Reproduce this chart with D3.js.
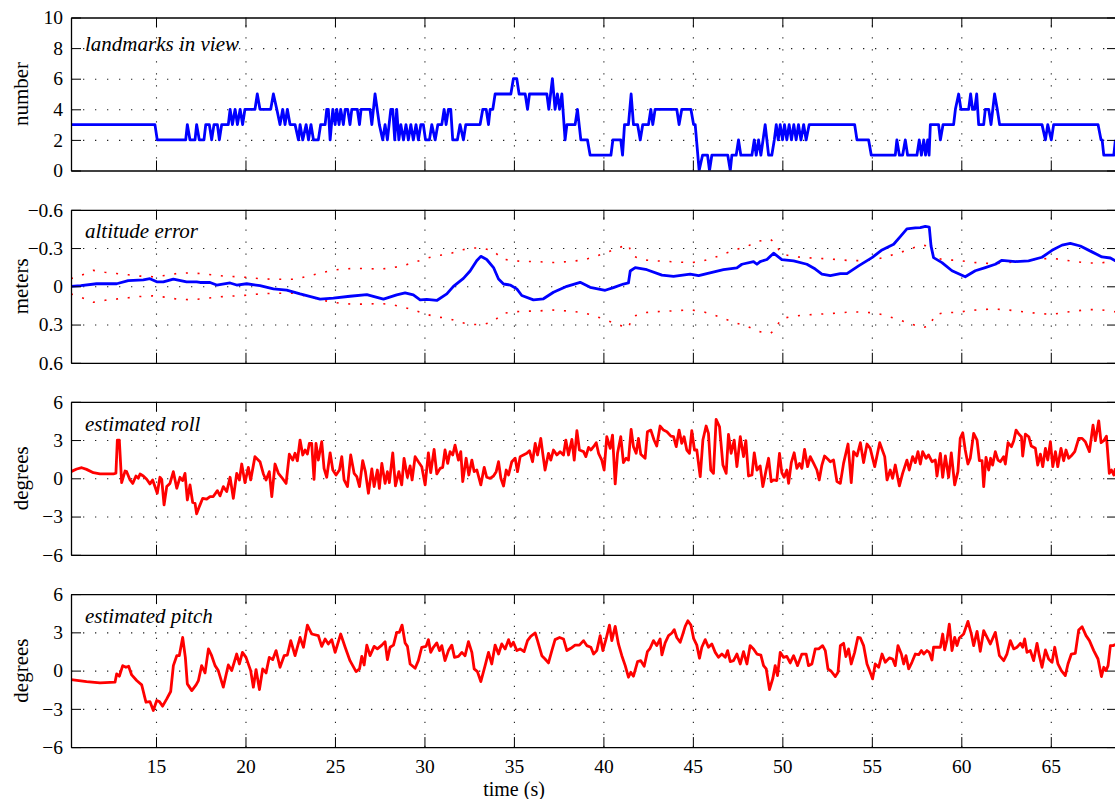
<!DOCTYPE html>
<html>
<head>
<meta charset="utf-8">
<script src="https://cdn.jsdelivr.net/npm/d3@7"></script>
<style>
body { margin: 0; background: #fff; }
svg { display: block; font-family: "Liberation Serif", "DejaVu Serif", serif; }
</style>
</head>
<body>
<div id="chart"></div>
<script>
// ---- data (time in s, value) ----
const timeTicks = [15, 20, 25, 30, 35, 40, 45, 50, 55, 60, 65];
const countTicks = [0, 2, 4, 6, 8, 10];
const altitudeTicks = [-0.6, -0.3, 0, 0.3, 0.6];
const angleTicks = [-6, -3, 0, 3, 6];
const panelTitles = ["landmarks in view", "altitude error", "estimated roll", "estimated pitch"];
const panelUnits = ["number", "meters", "degrees", "degrees"];

const landmarks = [
  [10.25,3],[14.94,3],[15.07,2],[16.66,2],[16.75,3],[16.9,2],[17.18,2],[17.27,3],[17.42,2],[17.68,2],[17.78,3],[17.98,3],[18.11,2],[18.24,3],[18.43,3],[18.54,2],[18.67,3],[19.04,3],[19.14,4],[19.27,3],[19.42,4],[19.55,3],[19.7,4],[19.84,3],[19.97,4],[20.53,4],[20.66,5],[20.81,4],[21.41,4],[21.56,5],[21.75,4],[21.93,3],[22.08,4],[22.21,3],[22.34,4],[22.49,3],[22.77,3],[22.96,2],
  [23.05,3],[23.2,2],[23.39,3],[23.52,2],[23.66,3],[23.8,2],[24.07,2],[24.2,3],[24.45,3],[24.54,4],[24.63,4],[24.73,2],[24.88,4],[25.01,3],[25.1,4],[25.23,3],[25.32,4],[25.47,3],[25.57,4],[25.71,4],[25.84,3],[25.94,4],[26.25,4],[26.37,3],[26.46,4],[26.96,4],[27.06,3],[27.24,5],[27.48,3],[27.67,2],[27.8,3],[27.93,2],[28.12,4],[28.23,4],[28.34,2],[28.45,4],[28.57,2],[28.68,3],[28.83,2],[28.97,3],[29.1,2],[29.24,3],[29.38,2],[29.53,3],[29.66,2],[29.8,3],[29.94,3],[30.06,2],[30.28,2],[30.41,3],[30.6,2],[30.75,3],[30.97,3],[31.1,4],[31.21,3],[31.34,4],[31.47,4],[31.58,2],[31.84,2],[31.99,3],[32.18,2],[32.31,3],[33.11,3],[33.26,4],[33.45,4],[33.58,3],[33.67,4],[33.82,4],[33.95,5],[34.83,5],[34.97,6],[35.16,6],[35.29,5],[35.63,5],[35.76,4],[35.87,5],[36.84,5],[36.95,4],[37.15,6],[37.3,4],[37.43,5],[37.55,4],[37.68,5],[37.86,2],[37.96,3],[38.42,3],[38.55,4],[38.74,2],[39.11,2],[39.26,1],[40.42,1],[40.53,2],[40.97,2],[41.07,1],[41.18,3],[41.4,3],[41.55,5],[41.68,3],[41.91,3],[42.06,2],[42.2,3],[42.52,3],[42.65,4],[42.76,3],[42.89,4],[44.1,4],[44.23,3],[44.38,4],[44.89,4],[45.04,3],[45.13,3],[45.35,0],[45.54,1],[45.82,1],[45.93,0],[46.06,1],[46.95,1],[47.09,0],[47.18,1],[47.42,1],[47.55,2],[47.68,1],[48.3,1],[48.43,2],[48.54,1],[48.67,2],[48.8,1],[49.04,3],[49.23,1],[49.41,1],[49.55,2],[49.66,3],[49.77,2],[49.88,3],[50.01,2],[50.12,3],[50.25,2],[50.38,3],[50.51,2],[50.64,3],[50.77,2],[50.9,3],[51.04,2],[51.19,3],[51.33,2],[51.5,3],
  [54.04,3],[54.17,2],[54.82,2],[54.97,1],[56.31,1],[56.4,2],[56.54,1],[56.72,1],[56.87,2],[57,1],[57.52,1],[57.65,2],[57.77,1],[57.9,2],[58.0,1],[58.12,2],[58.2,1],[58.27,3],[58.73,3],[58.83,2],[58.98,3],[59.57,3],[59.67,4],[59.85,5],[59.98,4],[60.41,4],[60.52,5],[60.63,4],[60.75,4],[60.86,5],[60.97,3],[61.25,3],[61.34,4],[61.53,4],[61.66,3],[61.86,5],[62.01,4],[62.14,3],[64.51,3],[64.7,2],[64.83,3],[65.03,2],[65.16,3],[67.64,3],[67.81,2],[67.87,2],[67.96,1],[68.52,1],[68.61,2]
];

const altitudeError = [
  [10.25,0],[10.8,-0.005],[11.68,-0.02],[12.8,-0.02],[13.45,-0.045],[14.29,-0.05],[14.66,-0.06],[15.04,-0.035],[15.41,-0.035],[15.97,-0.057],[16.71,-0.035],[17.27,-0.035],[17.46,-0.03],[18.02,-0.03],[18.39,-0.01],[19.14,-0.026],[19.51,-0.01],[20.07,-0.02],[20.81,-0.005],[21.56,0.02],[22.3,0.03],[23.05,0.06],[24.17,0.1],[24.91,0.093],[25.84,0.078],[26.78,0.065],[27.71,0.1],[28.45,0.067],[28.92,0.052],[29.38,0.067],[29.76,0.106],[30.13,0.103],[30.69,0.111],[31.25,0.06],[31.62,0],[32.18,-0.062],[32.55,-0.12],[32.92,-0.2],[33.15,-0.235],[33.48,-0.21],[33.86,-0.147],[34.14,-0.057],[34.42,-0.018],[34.79,-0.01],[35.16,0.02],[35.44,0.072],[36.09,0.106],[36.65,0.098],[37.21,0.047],[37.96,0],[38.7,-0.031],[39.26,0.008],[40.1,0.031],[40.56,0.01],[41.12,-0.018],[41.4,-0.026],[41.5,-0.12],[41.78,-0.147],[42.43,-0.13],[43.27,-0.088],[43.92,-0.078],[44.85,-0.096],[45.32,-0.083],[45.78,-0.1],[46.71,-0.13],[47.46,-0.145],[47.74,-0.173],[48.39,-0.194],[48.58,-0.173],[48.76,-0.194],[49.14,-0.21],[49.51,-0.26],[49.97,-0.21],[50.63,-0.2],[51.37,-0.173],[51.84,-0.135],[52.21,-0.096],[52.68,-0.083],[53.24,-0.1],[53.61,-0.1],[54.26,-0.16],[55.01,-0.225],[55.57,-0.285],[56.22,-0.33],[56.59,-0.39],[56.96,-0.45],[57.43,-0.458],[57.71,-0.46],[57.99,-0.47],[58.21,-0.465],[58.31,-0.315],[58.45,-0.225],[58.92,-0.186],[59.48,-0.122],[60.22,-0.075],[60.78,-0.122],[61.34,-0.147],[61.9,-0.173],[62.27,-0.204],[63.02,-0.194],[63.76,-0.2],[64.51,-0.228],[65.07,-0.282],[65.63,-0.323],[66.09,-0.336],[66.65,-0.316],[67.3,-0.27],[67.86,-0.23],[68.33,-0.222],[68.61,-0.2]
];

const altitudeSigma = [
  [10.25,0.06],[10.8,0.085],[11.5,0.125],[12.15,0.11],[12.8,0.1],[13.45,0.09],[14.1,0.08],[14.81,0.075],[15.5,0.085],[16.15,0.1],[16.81,0.105],[17.46,0.1],[18.11,0.09],[18.8,0.08],[19.47,0.075],[20.1,0.07],[20.78,0.06],[21.47,0.055],[22.12,0.055],[22.77,0.055],[23.05,0.065],[23.42,0.078],[24.07,0.1],[24.73,0.122],[25.38,0.135],[26.03,0.14],[26.72,0.14],[27.39,0.135],[28.04,0.14],[28.73,0.16],[29.38,0.185],[30.0,0.215],[30.65,0.24],[31.3,0.25],[31.94,0.28],[32.59,0.3],[33.26,0.3],[33.89,0.275],[34.32,0.215],[34.97,0.2],[35.66,0.195],[36.32,0.195],[36.99,0.185],[37.64,0.19],[38.29,0.197],[38.91,0.207],[39.52,0.233],[40.15,0.264],[40.79,0.3],[41.4,0.327],[41.61,0.24],[42.24,0.207],[42.89,0.2],[43.55,0.195],[44.23,0.19],[44.89,0.185],[45.54,0.198],[46.19,0.225],[46.8,0.257],[47.46,0.29],[48.07,0.316],[48.71,0.355],[49.32,0.37],[49.6,0.34],[49.92,0.255],[50.57,0.235],[51.22,0.225],[51.89,0.22],[52.55,0.215],[53.24,0.208],[53.89,0.2],[54.58,0.203],[55.23,0.21],[55.88,0.235],[56.54,0.263],[57.19,0.295],[57.8,0.325],[58.27,0.31],[58.49,0.225],[59.11,0.205],[59.8,0.205],[60.45,0.19],[61.12,0.183],[61.77,0.178],[62.46,0.183],[63.11,0.194],[63.76,0.205],[64.45,0.215],[65.1,0.22],[65.78,0.205],[66.43,0.193],[67.08,0.183],[67.77,0.183],[68.42,0.196],[68.61,0.2]
];

const roll = [
  [10.25,0.52],[10.57,0.73],[10.85,0.83],[11.12,0.7],[11.5,0.44],[11.87,0.34],[12.62,0.34],[12.76,0.4],[12.84,3],[12.95,3],[13.08,-0.34],[13.27,0.57],[13.36,0.52],[13.55,-0.13],[13.7,-0.4],[13.88,0.18],[14.01,0],[14.11,0.34],[14.29,0.18],[14.48,-0.08],[14.66,-0.44],[14.81,-0.13],[14.94,-0.65],[15.07,-1.17],[15.22,0.08],[15.32,-0.08],[15.45,-2.09],[15.6,-0.65],[15.78,-0.4],[15.97,0.52],[16.16,-0.78],[16.34,0.08],[16.49,-0.18],[16.62,0.39],[16.75,-1.7],[16.9,-0.52],[17.05,-1.9],[17.18,-1.96],[17.27,-2.79],[17.42,-2.22],[17.61,-1.57],[17.83,-1.64],[18.02,-1.43],[18.2,-1.43],[18.43,-0.97],[18.58,-1.38],[18.76,-0.65],[18.95,-1.04],[19.14,0.08],[19.32,-1.57],[19.51,0.39],[19.66,-0.13],[19.79,1.12],[19.97,-0.34],[20.16,0.86],[20.29,-0.13],[20.53,1.7],[20.81,1.3],[21.0,0.34],[21.15,-0.13],[21.33,0.52],[21.47,-1.43],[21.65,1.12],[21.84,0.39],[22.02,0.08],[22.27,-0.4],[22.45,1.9],[22.64,1.43],[22.77,1.96],[22.9,1.38],[23.05,3],
  [23.2,1.83],[23.33,2.22],[23.46,1.9],[23.57,2.74],[23.7,2.74],[23.83,-0.08],[23.94,2.74],[24.07,1.43],[24.26,2.87],[24.39,0.78],[24.54,0.08],[24.73,2.0],[24.88,0.65],[25.06,0.26],[25.25,0.65],[25.38,1.7],[25.51,-0.13],[25.7,-0.65],[25.88,1.83],[26.07,0.39],[26.22,0.13],[26.37,-0.65],[26.55,1.38],[26.7,0.52],[26.87,-1.17],[27.06,0.73],[27.19,-0.65],[27.37,0.65],[27.48,-0.78],[27.62,1.17],[27.8,-0.4],[27.93,0.52],[28.04,-0.34],[28.23,2.0],[28.38,-0.6],[28.57,0.52],[28.73,-0.52],[28.86,1.57],[29.05,0.08],[29.2,0.97],[29.31,-0.13],[29.48,1.7],[29.66,1.3],[29.85,0.91],[30.04,-0.52],[30.22,2.0],[30.35,0.44],[30.54,2.27],[30.69,0.34],[30.88,0.78],[31.02,0.86],[31.15,2.22],[31.3,1.17],[31.43,2.09],[31.58,1.83],[31.71,2.6],[31.9,1.43],[32.03,2.09],[32.14,-0.26],[32.33,1.57],[32.48,0.26],[32.65,1.43],[32.78,0.52],[32.93,0.65],[33.15,-0.52],[33.34,0.86],[33.48,0.08],[33.67,0],[33.86,0.18],[34.01,0.52],[34.14,1.3],[34.27,0],[34.42,-0.6],[34.57,0.65],[34.7,0.26],[34.88,1.3],[35.07,1.57],[35.2,0.52],[35.35,1.7],[35.53,1.83],[35.72,1.96],[35.87,2.17],[36.04,1.3],[36.19,2.74],[36.32,1.83],[36.5,3.13],[36.61,1.96],[36.74,0.65],[36.93,1.96],[37.06,1.43],[37.21,2.22],[37.4,1.83],[37.58,2.09],[37.77,1.83],[37.9,3],[38.05,1.83],[38.24,3.05],[38.37,1.43],[38.52,3.73],[38.66,2.22],[38.89,2.09],[39.02,1.7],[39.17,2.43],[39.3,2.22],[39.45,2.48],[39.6,2.79],[39.73,1.96],[39.91,1.43],[40.04,0.65],[40.19,3.26],[40.38,2.35],[40.51,3.39],[40.66,-0.44],[40.79,1.96],[40.97,3.26],[41.12,1.23],[41.27,1.57],[41.4,1.43],[41.55,3.83],[41.68,2.48],[41.83,1.96],[41.96,3.13],[42.09,1.88],[42.33,1.57],[42.46,3.65],[42.65,3.78],[42.83,3],[42.98,2.53],[43.17,4.1],[43.36,3.78],[43.55,3.65],[43.77,3.31],[43.92,3.26],[44.07,2.48],[44.23,3.78],[44.38,2.74],[44.51,3.26],[44.66,2.22],[44.81,1.96],[44.94,3.73],[45.09,2.22],[45.22,2.22],[45.41,0.13],[45.56,3],[45.74,4.1],[45.87,3.52],[46.0,0.65],[46.15,0.39],[46.3,4.62],[46.49,4.04],[46.68,1.04],[46.86,0.39],[46.99,3.44],[47.14,1.96],[47.31,3],[47.46,0.91],[47.65,3.26],[47.83,1.7],[47.96,2.95],[48.11,0.18],[48.3,0.26],[48.43,2.0],[48.58,0.65],[48.76,0.97],[48.91,-0.65],[49.1,0.7],[49.23,1.57],[49.38,-0.26],[49.51,-0.13],[49.69,-0.18],[49.84,1.96],[49.97,0.44],[50.1,0.08],[50.25,0.65],[50.35,-0.4],[50.5,1.23],[50.66,2.0],[50.81,0.78],[50.96,1.17],[51.09,0.78],[51.24,2.27],[51.41,0.91],[51.56,1.7],[51.75,1.17],[51.93,0.65],[52.06,-0.13],[52.21,1.04],[52.36,1.75],[52.55,1.49],[52.68,1.3],[52.86,1.43],[53.05,-0.26],[53.24,-0.4],[53.42,1.17],[53.67,2.69],[53.85,-0.34],[53.98,2.09],[54.17,1.75],[54.36,2.79],[54.54,1.23],[54.73,2.69],[54.91,2.35],[55.16,0.91],[55.44,2.79],[55.72,1.7],[55.85,-0.13],[56.03,0.65],[56.16,0],[56.31,1.04],[56.54,-0.6],[56.72,0.39],[56.96,1.43],[57.09,0.65],[57.28,1.7],[57.43,1.23],[57.58,2.09],[57.71,1.12],[57.84,2.09],[58.03,1.57],[58.17,1.83],[58.36,1.3],[58.55,1.43],[58.64,0.18],[58.83,1.96],[58.96,0.08],[59.11,1.75],[59.29,0.08],[59.44,2.0],[59.63,-0.52],[59.81,0.52],[59.94,3.13],[60.08,3.57],[60.22,2.22],[60.37,1.12],[60.5,1.57],[60.69,3.52],[60.88,3],[61.01,1.38],[61.16,1.38],[61.25,-0.65],[61.38,1.64],[61.53,0.65],[61.64,1.57],[61.75,1.04],[61.9,2.09],[62.05,1.43],[62.18,1.3],[62.37,1.7],[62.46,1.12],[62.61,2.79],[62.8,2.48],[62.93,2.95],[63.06,3.78],[63.21,3.47],[63.36,3.26],[63.43,1.75],[63.58,3.47],[63.77,3.26],[63.91,2.53],[64.14,2.35],[64.27,1.04],[64.42,1.9],[64.55,0.91],[64.7,2.35],[64.83,1.43],[64.98,2.87],[65.11,0.91],[65.26,2.09],[65.39,0.91],[65.57,2.35],[65.72,1.38],[65.85,2.22],[66.0,1.57],[66.19,1.83],[66.34,2.09],[66.56,3.13],[66.75,3.13],[66.93,2.87],[67.16,2.09],[67.36,4.17],[67.49,2.95],[67.68,4.51],[67.81,2.79],[67.96,2.95],[68.11,3.31],[68.27,0.39],[68.39,0.65],[68.52,0.26],[68.61,0.78]
];

const pitch = [
  [10.25,-0.7],[11.12,-0.86],[11.87,-0.97],[12.71,-0.91],[12.8,-0.26],[12.95,-0.44],[13.14,0.39],[13.32,0.26],[13.47,0.34],[13.64,-0.34],[13.92,-0.78],[14.2,-1.12],[14.44,-2.48],[14.66,-2.43],[14.85,-3.13],[15.04,-2.35],[15.19,-2.43],[15.37,-2.79],[15.6,-2.22],[15.82,-1.64],[15.97,0.39],[16.16,1.17],[16.3,1.17],[16.49,2.6],[16.64,1.04],[16.75,-1.04],[17.0,-1.57],[17.24,-1.12],[17.37,-0.78],[17.55,0.39],[17.74,-0.18],[17.93,1.7],[18.11,1.17],[18.3,0.39],[18.48,0],[18.76,-1.3],[19.04,0.44],[19.23,0],[19.51,1.3],[19.66,0.52],[19.83,1.43],[20.03,1.04],[20.29,0],[20.44,-1.3],[20.59,0.08],[20.78,-1.49],[20.96,0.13],[21.15,-0.18],[21.33,1.04],[21.52,0.86],[21.71,1.57],[21.93,0.26],[22.16,1.17],[22.34,1.22],[22.53,2.35],[22.77,1.17],[23.05,2.6],[23.24,1.83],[23.46,3.57],[23.7,2.87],[24.07,2.74],[24.26,1.9],[24.45,2.48],[24.63,2.09],[24.82,2.43],[25.01,1.43],[25.32,2.87],[25.57,1.83],[25.84,0.78],[26.18,-0.08],[26.37,0.13],[26.5,1.12],[26.63,0.44],[26.78,2.0],[26.96,1.17],[27.19,1.9],[27.37,1.7],[27.62,2.0],[27.8,2.27],[27.93,0.86],[28.08,1.83],[28.27,2.0],[28.45,3],[28.6,3],[28.75,3.57],[28.92,2.17],[29.05,1.9],[29.2,0.52],[29.48,0.18],[29.66,0.78],[29.85,1.83],[30.09,1.9],[30.22,2.43],[30.35,1.43],[30.5,1.83],[30.69,2.17],[30.84,1.57],[30.97,1.96],[31.15,0.78],[31.34,1.57],[31.53,2.0],[31.68,1.04],[31.9,1.12],[32.09,1.43],[32.27,1.17],[32.46,2.27],[32.65,1.43],[32.78,0.13],[32.96,-0.08],[33.15,-0.86],[33.39,0.39],[33.58,1.43],[33.76,0.52],[33.95,2.0],[34.14,1.3],[34.32,2.09],[34.51,1.7],[34.7,2.43],[34.83,1.9],[34.97,2.22],[35.16,1.57],[35.35,1.7],[35.57,1.49],[35.76,2.35],[35.94,2.69],[36.19,2.95],[36.32,2.35],[36.56,1.17],[36.74,0.91],[36.93,0.6],[37.12,1.57],[37.3,2.43],[37.55,2.6],[37.77,2.48],[37.96,1.57],[38.18,1.75],[38.42,2.0],[38.66,2.0],[38.89,2.35],[39.07,1.96],[39.3,1.83],[39.45,1.3],[39.63,1.57],[39.82,2.74],[39.97,1.57],[40.15,2.48],[40.34,3.57],[40.47,2.35],[40.66,3.47],[40.84,2.09],[41.03,1.17],[41.22,0.39],[41.4,-0.52],[41.53,-0.13],[41.68,-0.44],[41.91,0.7],[42.09,0.78],[42.28,0.34],[42.46,1.49],[42.61,1.75],[42.8,2.35],[42.98,1.96],[43.17,2.48],[43.27,1.23],[43.45,2.17],[43.64,2.74],[43.83,2.95],[43.96,3.21],[44.1,2.6],[44.29,2.22],[44.44,2.87],[44.57,3.47],[44.72,3.91],[44.89,3.57],[45.04,2.53],[45.22,2.0],[45.37,0.97],[45.5,1.83],[45.69,2.43],[45.87,1.83],[46.06,2.09],[46.25,1.43],[46.43,1.04],[46.62,1.3],[46.81,1.04],[46.94,1.57],[47.09,0.7],[47.27,0.78],[47.46,1.3],[47.65,0.52],[47.83,1.49],[48.02,0.52],[48.2,1.96],[48.39,1.7],[48.58,1.3],[48.8,1.22],[48.95,0.39],[49.1,0.13],[49.28,-1.49],[49.47,-0.6],[49.6,0.39],[49.73,-0.39],[49.88,1.43],[50.07,1.04],[50.25,1.12],[50.44,0.6],[50.63,1.17],[50.85,0.39],[51.09,1.3],[51.33,1.3],[51.46,0.39],[51.65,0.52],[51.84,1.7],[52.03,1.7],[52.25,1.96],[52.4,1.57],[52.55,0.13],[52.73,-0.05],[52.96,-0.47],[53.11,-0.13],[53.24,1.96],[53.42,2.14],[53.55,1.1],[53.7,1.7],[53.85,0.52],[54.04,1.43],[54.22,2.61],[54.36,2.56],[54.54,1.96],[54.73,0.52],[54.91,-0.13],[55.04,-0.65],[55.19,0.52],[55.38,0.26],[55.57,1.3],[55.75,0.65],[55.98,1.0],[56.16,0.91],[56.31,0.39],[56.46,1.96],[56.65,1.3],[56.78,0.52],[56.91,1.17],[57.06,0.13],[57.24,0.65],[57.43,1.3],[57.62,1.25],[57.77,1.57],[57.9,1.3],[58.08,1.57],[58.21,1.43],[58.36,0.83],[58.45,1.83],[58.64,1.83],[58.83,1.83],[58.96,2.87],[59.07,1.62],[59.2,2.4],[59.33,3.65],[59.48,1.57],[59.63,2.61],[59.76,1.96],[59.89,2.56],[60.13,2.87],[60.37,3.86],[60.56,2.87],[60.69,1.96],[60.88,3.08],[61.06,1.51],[61.25,3.13],[61.44,2.61],[61.62,2.09],[61.9,3.0],[62.13,1.17],[62.37,0.78],[62.55,1.3],[62.74,2.35],[62.93,1.7],[63.11,1.83],[63.3,2.14],[63.43,1.83],[63.54,2.48],[63.67,1.43],[63.86,1.57],[64.04,0.78],[64.23,2.14],[64.36,1.17],[64.51,0.26],[64.7,1.62],[64.88,0.91],[65.07,0.65],[65.22,1.83],[65.4,0.52],[65.59,0],[65.81,-0.39],[65.96,0.52],[66.15,1.3],[66.37,1.35],[66.56,3.18],[66.75,3.44],[66.97,2.74],[67.16,2.35],[67.4,1.57],[67.64,0.91],[67.83,-0.47],[67.96,0.26],[68.09,0],[68.2,0.39],[68.33,1.96],[68.48,1.96],[68.61,2.04]
];

// ---- layout ----
const width = 1115, height = 799;
const plotLeft = 71, plotRight = 1117;
const panelH = 153;
const tickFont = 19.5;
const labelFont = 21;

const svg = d3.select("#chart").append("svg")
    .attr("width", width)
    .attr("height", height);

const x = d3.scaleLinear().domain([10.25, 68.7]).range([plotLeft, plotRight]);

const fmtTick = d => d === 0 ? "0" : (Number.isInteger(d) ? d3.format("d")(d) : d3.format(".1f")(d));

// domain is [value at bottom, value at top]
const panels = [
    { top: 17.5, domain: [0, 10], ticks: countTicks, titleDy: 33,
      lines: [{ data: landmarks, color: "#0000ff" }] },
    { top: 209.8, domain: [0.6, -0.6], ticks: altitudeTicks, titleDy: 28.5,
      lines: [
          { data: altitudeSigma.map(d => [d[0], -d[1]]), color: "#ff0000", dotted: true },
          { data: altitudeSigma, color: "#ff0000", dotted: true },
          { data: altitudeError, color: "#0000ff" }
      ] },
    { top: 401.8, domain: [-6, 6], ticks: angleTicks, titleDy: 29,
      lines: [{ data: roll, color: "#ff0000" }] },
    { top: 594.1, domain: [-6, 6], ticks: angleTicks, titleDy: 28.5,
      lines: [{ data: pitch, color: "#ff0000" }] },
];

panels.forEach((p, i) => {
    const bottom = p.top + panelH;
    const y = d3.scaleLinear().domain(p.domain).range([bottom, p.top]);
    const g = svg.append("g");

    const clipId = "clip" + i;
    svg.append("clipPath").attr("id", clipId)
        .append("rect")
        .attr("x", plotLeft).attr("y", p.top)
        .attr("width", plotRight - plotLeft).attr("height", panelH);

    // dotted grid
    const grid = g.append("g").attr("class", "grid");
    grid.append("g")
        .attr("transform", `translate(0,${bottom})`)
        .call(d3.axisBottom(x).tickValues(timeTicks).tickSize(-panelH).tickFormat(""))
        .call(a => a.select(".domain").remove());
    grid.append("g")
        .attr("transform", `translate(${plotLeft},0)`)
        .call(d3.axisLeft(y).tickValues(p.ticks.slice(1, -1)).tickSize(-(plotRight - plotLeft)).tickFormat(""))
        .call(a => a.select(".domain").remove());
    grid.selectAll("line")
        .attr("stroke", "#222")
        .attr("stroke-width", 1.1)
        .attr("stroke-dasharray", "1.3,10.7");

    // series
    const line = d3.line().x(d => x(d[0])).y(d => y(d[1]));
    p.lines.forEach(s => {
        g.append("path")
            .datum(s.data)
            .attr("clip-path", `url(#${clipId})`)
            .attr("fill", "none")
            .attr("stroke", s.color)
            .attr("stroke-width", s.dotted ? 1.6 : 2.8)
            .attr("stroke-linejoin", "round")
            .attr("stroke-dasharray", s.dotted ? "2,9.7" : null)
            .attr("d", line);
    });

    // frame with inward ticks
    const axes = g.append("g").attr("class", "axes");
    axes.append("g")
        .attr("transform", `translate(${plotLeft},0)`)
        .call(d3.axisLeft(y).tickValues(p.ticks).tickSize(-10).tickSizeOuter(0)
            .tickPadding(8).tickFormat(fmtTick));
    axes.append("g")
        .attr("transform", `translate(${plotRight},0)`)
        .call(d3.axisRight(y).tickValues(p.ticks).tickSize(-10).tickSizeOuter(0).tickFormat(""));
    axes.append("g")
        .attr("transform", `translate(0,${p.top})`)
        .call(d3.axisTop(x).tickValues(timeTicks).tickSize(-10).tickSizeOuter(0).tickFormat(""));
    axes.append("g")
        .attr("transform", `translate(0,${bottom})`)
        .call(d3.axisBottom(x).tickValues(timeTicks).tickSize(-10).tickSizeOuter(0)
            .tickPadding(12).tickFormat(i === panels.length - 1 ? d3.format("d") : ""));
    axes.selectAll(".domain").attr("stroke", "#000").attr("stroke-width", 1.3);
    axes.selectAll(".tick line").attr("stroke", "#000").attr("stroke-width", 1);
    axes.selectAll("text")
        .attr("fill", "#000")
        .style("font-family", "'Liberation Serif', serif")
        .style("font-size", tickFont + "px");

    // title inside panel
    g.append("text")
        .attr("x", 85)
        .attr("y", p.top + p.titleDy)
        .attr("font-style", "italic")
        .style("font-size", labelFont + "px")
        .attr("fill", "#000")
        .text(panelTitles[i]);

    // y label
    g.append("text")
        .attr("transform", `translate(28,${p.top + panelH / 2}) rotate(-90)`)
        .attr("text-anchor", "middle")
        .style("font-size", labelFont + "px")
        .attr("fill", "#000")
        .text(panelUnits[i]);
});

svg.append("text")
    .attr("x", 514)
    .attr("y", 796)
    .attr("text-anchor", "middle")
    .style("font-size", "20px")
    .attr("fill", "#000")
    .text("time (s)");
</script>
</body>
</html>
